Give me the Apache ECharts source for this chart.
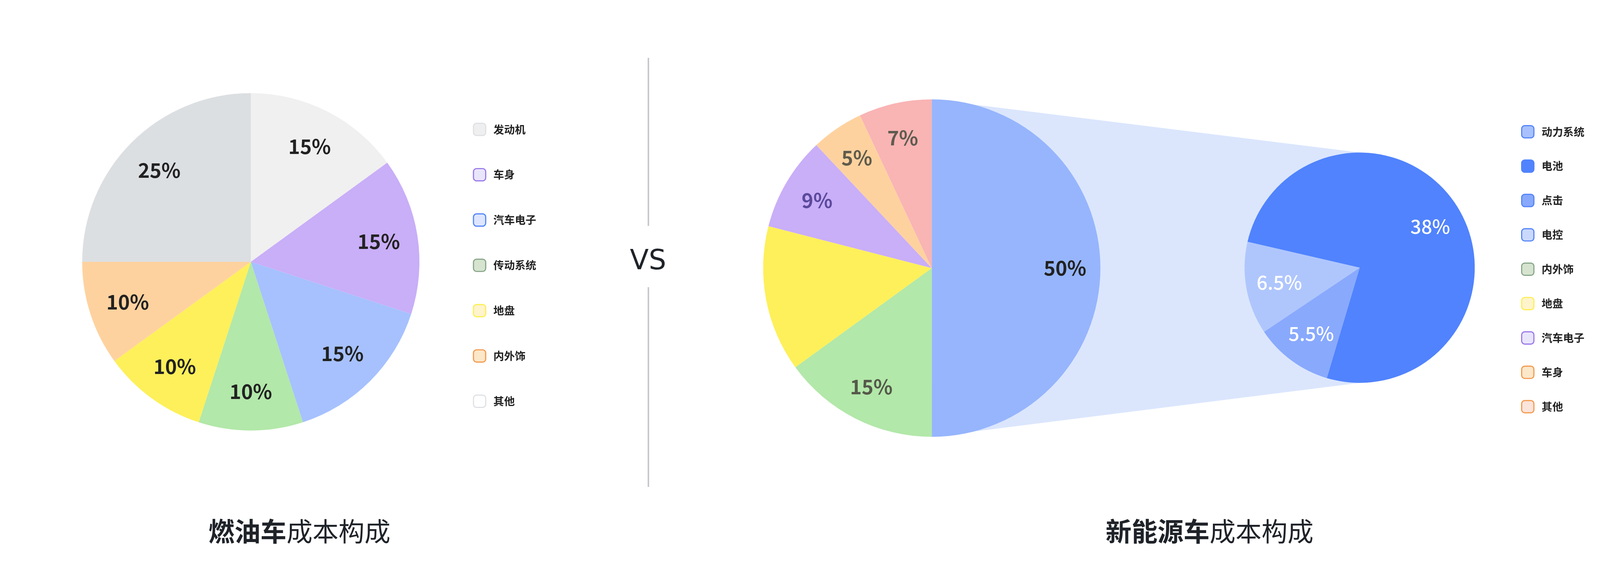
<!DOCTYPE html>
<html>
<head>
<meta charset="utf-8">
<script src="https://cdn.jsdelivr.net/npm/echarts@6/dist/echarts.min.js"></script>
<style>
html,body{margin:0;padding:0;background:#ffffff;overflow:hidden;}
#chart{width:100vw;height:100vh;}
</style>
</head>
<body>
<div id="chart"></div>
<script>
// ---------------- data ----------------
const fuelCategories = ['发动机', '车身', '汽车电子', '传动系统', '地盘', '内外饰', '其他'];
const fuelValues = [15, 15, 15, 10, 10, 10, 25];

const nevCategories = ['动力系统', '内外饰', '地盘', '汽车电子', '车身', '其他'];
const nevValues = [50, 15, 14, 9, 5, 7];
const nevUnlabeled = ['地盘'];

const powerCategories = ['电池', '点击', '电控'];
const powerValues = [38, 5.5, 6.5];

const fuelTitle = ['燃油车', '成本构成'];
const nevTitle = ['新能源车', '成本构成'];
const vsText = 'VS';

// ---------------- styles ----------------
const FONT = '"Noto Sans CJK SC", "Noto Sans", sans-serif';
const fuelColors = ['#f0f0f0', '#c9aef8', '#a6c1fd', '#b2e8a9', '#fef05a', '#fed29f', '#dcdfe2'];
const nevColors = ['#96b5fd', '#b2e8a9', '#fef05a', '#c9aef8', '#fed29f', '#f9b4b4'];
const nevLabelColors = ['#222222', '#55594b', '#55594b', '#5b4a9c', '#5f5b4c', '#5f5b50'];
const powerColors = ['#5083fd', '#89a9fd', '#afc6fd'];
const bandColor = '#dbe6fd';

const fuelLegendFill = ['#efefef', '#e9e6fb', '#dde6fd', '#d6e4cf', '#fff4cc', '#fbe7c9', '#ffffff'];
const fuelLegendBorder = ['#dfe1e4', '#9b78ea', '#5485f8', '#88a68a', '#fdef55', '#f39a4e', '#dfe1e4'];
const nevLegendFill = ['#a8c1fd', '#5083fd', '#88a8fb', '#cad8fc', '#d6e4cf', '#fff4cc', '#e9e6fb', '#fbe7c9', '#fbe4dc'];
const nevLegendBorder = ['#5485f8', '#5083fd', '#5485f8', '#5485f8', '#88a68a', '#fdef55', '#9b78ea', '#f39a4e', '#f39a4e'];

// ---------------- layout (reference frame 4274 x 1456, scaled to the viewport) ----------------
const chartEl = document.getElementById('chart');
const chart = echarts.init(chartEl, null, {renderer: 'canvas'});
const W = chart.getWidth(), H = chart.getHeight();
const SX = W / 4274, SY = H / 1456, S = Math.sqrt(SX * SY);
const X = v => v * SX, Y = v => v * SY, Z = v => v * S;

const FUEL_C = [X(670), Y(670)];
const NEV_C = [X(2489), Y(686)];
const PIE_R = Z(441);
const SUB_C = [X(3632), Y(685)];
const SUB_R = Z(301);

function pieItems(names, values, colors) {
  return names.map((n, i) => ({name: n, value: values[i], itemStyle: {color: colors[i]}}));
}
function labelItems(names, values, colorFn) {
  return names.map((n, i) => ({
    name: n, value: values[i],
    itemStyle: {color: 'rgba(0,0,0,0)'},
    label: colorFn ? {color: colorFn(i)} : undefined
  }));
}

const nevLegendNames = [nevCategories[0]].concat(powerCategories, nevCategories.slice(1));

const basePie = {
  type: 'pie', startAngle: 90, clockwise: true, silent: true,
  label: {show: false}, labelLine: {show: false},
  emphasis: {disabled: true}, itemStyle: {borderWidth: 0}, z: 2
};
const labelFont = {fontFamily: FONT, fontSize: Z(52), fontWeight: 'bold'};
const legendText = {fontFamily: FONT, fontSize: Z(28), fontWeight: 'bold', color: '#222222', padding: [0, 0, 0, Z(15)]};
const titleRich = {
  b: {fontFamily: FONT, fontSize: Z(68), fontWeight: 'bold', fill: '#1f2329'},
  r: {fontFamily: FONT, fontSize: Z(68), fontWeight: 'normal', fill: '#1f2329'}
};

const option = {
  backgroundColor: '#ffffff',
  animation: false,
  textStyle: {fontFamily: FONT},
  legend: [
    {
      orient: 'vertical', left: X(1258), top: Y(309),
      itemWidth: Z(32), itemHeight: Z(32), itemGap: Y(113) - Z(32), icon: 'roundRect',
      selectedMode: false, textStyle: legendText,
      data: fuelCategories.map((n, i) => ({
        name: n, itemStyle: {color: fuelLegendFill[i], borderColor: fuelLegendBorder[i], borderWidth: Z(3)}
      }))
    },
    {
      orient: 'vertical', left: X(4058), top: Y(315),
      itemWidth: Z(32), itemHeight: Z(32), itemGap: Y(85) - Z(32), icon: 'roundRect',
      selectedMode: false, textStyle: legendText,
      data: nevLegendNames.map((n, i) => ({
        name: n, itemStyle: {color: nevLegendFill[i], borderColor: nevLegendBorder[i], borderWidth: Z(3)}
      }))
    }
  ],
  graphic: [
    {
      type: 'polygon', z: 0, silent: true,
      shape: {points: [
        [NEV_C[0], NEV_C[1] - PIE_R], [SUB_C[0], SUB_C[1] - SUB_R],
        [SUB_C[0], SUB_C[1] + SUB_R], [NEV_C[0], NEV_C[1] + PIE_R]
      ]},
      style: {fill: bandColor}
    },
    {type: 'line', shape: {x1: X(1732), y1: Y(148), x2: X(1732), y2: Y(578)}, style: {stroke: '#c6c7cc', lineWidth: Z(4)}},
    {type: 'line', shape: {x1: X(1732), y1: Y(735), x2: X(1732), y2: Y(1246)}, style: {stroke: '#c6c7cc', lineWidth: Z(4)}},
    {
      type: 'text', x: X(1731), y: Y(671),
      style: {text: vsText, fontFamily: '"DejaVu Sans", sans-serif', fontSize: Z(72), fill: '#1f2329', align: 'center', verticalAlign: 'middle'}
    },
    {
      type: 'text', x: X(800), y: Y(1360),
      style: {
        text: '{b|' + fuelTitle[0] + '}{r|' + fuelTitle[1] + '}',
        align: 'center', verticalAlign: 'middle', fill: '#1f2329', fontFamily: FONT, fontSize: Z(68),
        rich: titleRich
      }
    },
    {
      type: 'text', x: X(3231), y: Y(1360),
      style: {
        text: '{b|' + nevTitle[0] + '}{r|' + nevTitle[1] + '}',
        align: 'center', verticalAlign: 'middle', fill: '#1f2329', fontFamily: FONT, fontSize: Z(68),
        rich: titleRich
      }
    }
  ],
  series: [
    Object.assign({}, basePie, {
      name: 'fuel', center: FUEL_C, radius: [0, PIE_R],
      data: pieItems(fuelCategories, fuelValues, fuelColors)
    }),
    Object.assign({}, basePie, {
      name: 'fuelLabel', center: FUEL_C, radius: [Z(230), PIE_R], z: 3,
      label: Object.assign({show: true, position: 'inside', formatter: '{c}%', color: '#222222'}, labelFont),
      data: labelItems(fuelCategories, fuelValues)
    }),
    Object.assign({}, basePie, {
      name: 'nev', center: NEV_C, radius: [0, PIE_R],
      data: pieItems(nevCategories, nevValues, nevColors)
    }),
    Object.assign({}, basePie, {
      name: 'nevLabel', center: NEV_C, radius: [Z(250), PIE_R], z: 3,
      label: Object.assign({
        show: true, position: 'inside',
        formatter: p => nevUnlabeled.indexOf(p.name) >= 0 ? '' : p.value + '%'
      }, labelFont),
      data: labelItems(nevCategories, nevValues, i => nevLabelColors[i])
    }),
    Object.assign({}, basePie, {
      name: 'power', center: SUB_C, radius: [0, SUB_R], startAngle: 167,
      data: pieItems(powerCategories, powerValues, powerColors)
    }),
    Object.assign({}, basePie, {
      name: 'powerLabel', center: SUB_C, radius: [Z(120), SUB_R], startAngle: 167, z: 3,
      label: {show: true, position: 'inside', formatter: '{c}%', color: '#ffffff', fontFamily: FONT, fontSize: Z(50), fontWeight: 500},
      data: labelItems(powerCategories, powerValues)
    })
  ]
};
chart.setOption(option);
window.addEventListener('resize', () => chart.resize());
</script>
</body>
</html>
